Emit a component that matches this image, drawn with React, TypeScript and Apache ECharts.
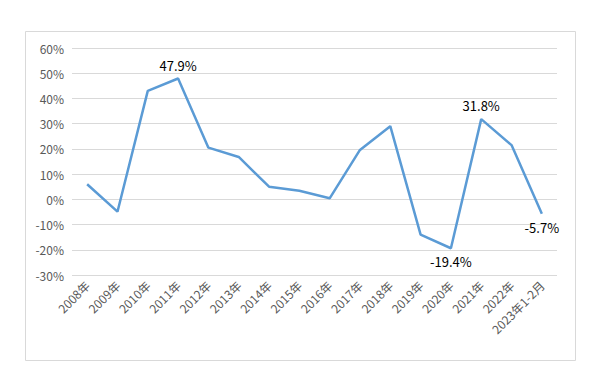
import React, { useEffect, useRef } from "react";
import * as echarts from "echarts";

const categories = [
  "2008年", "2009年", "2010年", "2011年", "2012年", "2013年", "2014年", "2015年",
  "2016年", "2017年", "2018年", "2019年", "2020年", "2021年", "2022年", "2023年1-2月",
];
const growth = [6.0, -4.9, 43.0, 47.9, 20.5, 16.8, 5.0, 3.4, 0.4, 19.6, 29.0, -14.0, -19.4, 31.8, 21.5, -5.7];
const labelled: Record<number, "top" | "bottom"> = { 3: "top", 12: "bottom", 13: "top", 15: "bottom" };
const yTicks = { min: -30, max: 60, interval: 10 };

export default function App() {
  const ref = useRef<HTMLDivElement>(null);
  useEffect(() => {
    if (!ref.current) return;
    const chart = echarts.init(ref.current, undefined, { renderer: "svg" });
    const font = "'Noto Sans CJK SC', 'Noto Sans', sans-serif";
    chart.setOption({
      animation: false,
      backgroundColor: "#ffffff",
      graphic: [
        {
          type: "rect",
          shape: { x: 25.5, y: 31.5, width: 550, height: 329 },
          style: { fill: "none", stroke: "#d9d9d9", lineWidth: 1 },
          silent: true,
        },
      ],
      grid: { left: 72, right: 36, top: 48, bottom: 106, containLabel: false },
      xAxis: {
        type: "category",
        data: categories,
        boundaryGap: true,
        axisLine: { show: false, onZero: false },
        axisTick: { show: false },
        axisLabel: { rotate: 45, color: "#595959", fontSize: 12, fontFamily: font, margin: 8, interval: 0 },
      },
      yAxis: {
        type: "value",
        min: yTicks.min,
        max: yTicks.max,
        interval: yTicks.interval,
        axisLine: { show: false },
        axisTick: { show: false },
        splitLine: { lineStyle: { color: "#d9d9d9", width: 1 } },
        axisLabel: { formatter: "{value}%", color: "#595959", fontSize: 12, fontFamily: font, margin: 8 },
      },
      series: [
        {
          type: "line",
          data: growth.map((v, i) => ({
            value: v,
            label: labelled[i]
              ? {
                  show: true,
                  position: labelled[i],
                  distance: 7,
                  color: "#000000",
                  fontSize: 13,
                  fontFamily: font,
                }
              : { show: false },
          })),
          label: {
            formatter: (p: any) => `${Number(p.value).toFixed(1)}%`,
          },
          symbol: "circle",
          symbolSize: 0,
          showSymbol: true,
          itemStyle: { color: "#5b9bd5" },
          lineStyle: { color: "#5b9bd5", width: 2.5 },
        },
      ],
    });
    return () => chart.dispose();
  }, []);
  return <div ref={ref} style={{ position: "absolute", left: 0, top: 0, width: 593, height: 381 }} />;
}
